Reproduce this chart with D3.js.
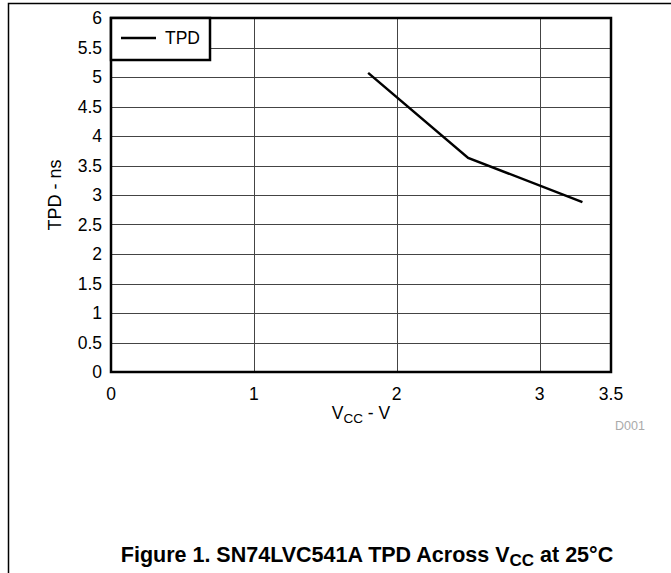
<!DOCTYPE html>
<html>
<head>
<meta charset="utf-8">
<script src="https://cdn.jsdelivr.net/npm/d3@7"></script>
<style>
  body { margin: 0; background: #fff; }
  text { font-family: "Liberation Sans", Arial, sans-serif; }
</style>
</head>
<body>
<div id="chart"></div>
<script>
// data
const vcc = [1.8, 2.5, 3.3];
const tpd = [5.07, 3.63, 2.88];
const xTicks = [0, 1, 2, 3, 3.5];
const yTicks = [0, 0.5, 1, 1.5, 2, 2.5, 3, 3.5, 4, 4.5, 5, 5.5, 6];
const seriesName = 'TPD';

const svg = d3.select('#chart').append('svg').attr('width', 671).attr('height', 573);

// outer frame (top and left only)
svg.append('path')
  .attr('d', 'M8.5,573 L8.5,3.5 L671,3.5')
  .attr('fill', 'none').attr('stroke', '#000').attr('stroke-width', 1.5);

const margin = { top: 18, left: 111, right: 60, bottom: 201 };
const width = 671 - margin.left - margin.right;   // ~500
const height = 573 - margin.top - margin.bottom;  // ~354

const xScale = d3.scaleLinear().domain([0, 3.5]).range([0, width]);
const yScale = d3.scaleLinear().domain([0, 6]).range([height, 0]);

const g = svg.append('g').attr('transform', `translate(${margin.left}, ${margin.top})`);

// grid lines
g.selectAll('.hgrid').data(yTicks.filter(d => d > 0 && d < 6)).join('line')
  .attr('x1', 0).attr('x2', width)
  .attr('y1', d => Math.round(yScale(d)) + 0.5).attr('y2', d => Math.round(yScale(d)) + 0.5)
  .attr('stroke', '#444').attr('stroke-width', 1);
g.selectAll('.vgrid').data(xTicks.filter(d => d > 0 && d < 3.5)).join('line')
  .attr('y1', 0).attr('y2', height)
  .attr('x1', d => Math.round(xScale(d)) + 0.5).attr('x2', d => Math.round(xScale(d)) + 0.5)
  .attr('stroke', '#444').attr('stroke-width', 1);

// tick labels
g.selectAll('.ylab').data(yTicks).join('text')
  .attr('x', -9).attr('y', d => yScale(d) + 6)
  .attr('text-anchor', 'end').attr('font-size', 17.5)
  .text(d => d);
g.selectAll('.xlab').data(xTicks).join('text')
  .attr('x', d => xScale(d)).attr('y', height + 28)
  .attr('text-anchor', 'middle').attr('font-size', 17.5)
  .text(d => d);

// data line
g.append('path')
  .datum(vcc.map((v, i) => [v, tpd[i]]))
  .attr('fill', 'none').attr('stroke', '#000').attr('stroke-width', 2.5)
  .attr('d', d3.line().x(d => xScale(d[0])).y(d => yScale(d[1])));

// plot border
g.append('rect')
  .attr('x', 0).attr('y', 0).attr('width', width).attr('height', height)
  .attr('fill', 'none').attr('stroke', '#000').attr('stroke-width', 2.5);

// legend
const legend = g.append('g');
legend.append('rect')
  .attr('x', 0).attr('y', 0).attr('width', 99).attr('height', 42)
  .attr('fill', '#fff').attr('stroke', '#000').attr('stroke-width', 2.5);
legend.append('line')
  .attr('x1', 10).attr('x2', 45).attr('y1', 20).attr('y2', 20)
  .attr('stroke', '#000').attr('stroke-width', 2.5);
legend.append('text')
  .attr('x', 54).attr('y', 26).attr('font-size', 17.5).text(seriesName);

// axis titles
const xTitle = svg.append('text')
  .attr('x', margin.left + xScale(1.75)).attr('y', 419)
  .attr('text-anchor', 'middle').attr('font-size', 17.5);
xTitle.append('tspan').text('V');
xTitle.append('tspan').attr('font-size', 13.5).attr('dy', 4).text('CC');
xTitle.append('tspan').attr('dy', -4).text(' - V');

svg.append('text')
  .attr('transform', `translate(61, ${margin.top + height / 2}) rotate(-90)`)
  .attr('text-anchor', 'middle').attr('font-size', 18)
  .text('TPD - ns');

svg.append('text')
  .attr('x', 630).attr('y', 430).attr('text-anchor', 'middle')
  .attr('font-size', 12.5).attr('fill', '#aaa').text('D001');

// figure caption
const title = svg.append('text')
  .attr('x', 367).attr('y', 562).attr('text-anchor', 'middle')
  .attr('font-size', 21.5).attr('font-weight', 'bold');
title.append('tspan').text('Figure 1. SN74LVC541A TPD Across V');
title.append('tspan').attr('font-size', 17).attr('dy', 4).text('CC');
title.append('tspan').attr('dy', -4).text(' at 25°C');
</script>
</body>
</html>
